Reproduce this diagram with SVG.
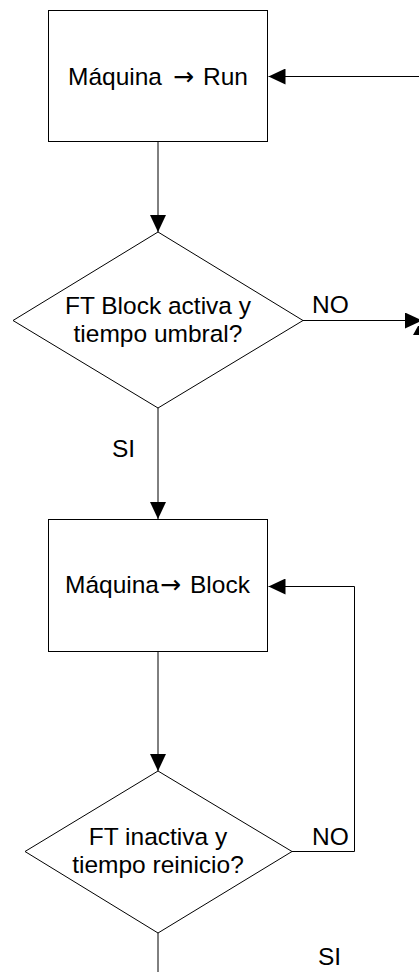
<svg xmlns="http://www.w3.org/2000/svg" width="419" height="972" viewBox="0 0 419 972">
<style>
  .shape { fill: #ffffff; stroke: #000000; stroke-width: 1; }
  .conn { fill: none; stroke: #000000; stroke-width: 1; }
  .lbl { font-family: "Liberation Sans", Arial, sans-serif; font-size: 24.5px; fill: #000000; }
  .arr { font-family: "DejaVu Sans", sans-serif; font-size: 25px; }
  .mid { text-anchor: middle; }
</style>
<defs>
  <marker id="ah" viewBox="0 0 17 16" refX="17" refY="8" markerWidth="17" markerHeight="16" markerUnits="userSpaceOnUse" orient="auto">
    <path d="M0,0 L17,8 L0,16 Z" fill="#000000"/>
  </marker>
</defs>
<rect width="419" height="972" fill="#ffffff"/>

<g id="connectors">
  <line class="conn" x1="419" y1="76.5" x2="268.5" y2="76.5" marker-end="url(#ah)"/>
  <line class="conn" x1="158" y1="142" x2="158" y2="232" marker-end="url(#ah)"/>
  <line class="conn" x1="303" y1="320.5" x2="422" y2="320.5" marker-end="url(#ah)"/>
  <polygon points="418,326 419,326 419,335 413,335" fill="#000000"/>
  <line class="conn" x1="158" y1="408" x2="158" y2="519" marker-end="url(#ah)"/>
  <line class="conn" x1="158" y1="652" x2="158" y2="771" marker-end="url(#ah)"/>
  <polyline class="conn" points="292,851.5 354.5,851.5 354.5,586.5 268.5,586.5" marker-end="url(#ah)"/>
  <line class="conn" x1="158" y1="933" x2="158" y2="972"/>
  <text class="lbl" x="312" y="313">NO</text>
  <text class="lbl" x="112" y="457">SI</text>
  <text class="lbl" x="312" y="845">NO</text>
  <text class="lbl" x="318" y="965">SI</text>
</g>

<g id="box-run">
  <rect class="shape" x="48.5" y="10.5" width="219" height="131"/>
  <text class="lbl" x="68" y="85">Máquina <tspan class="arr" x="173">→</tspan> <tspan x="203">Run</tspan></text>
</g>

<g id="decision-block">
  <polygon class="shape" points="158,232 303,320.5 158,408 13,320.5"/>
  <text class="lbl mid" x="158" y="314">FT Block activa y</text>
  <text class="lbl mid" x="158" y="342">tiempo umbral?</text>
</g>

<g id="box-block">
  <rect class="shape" x="48.5" y="519.5" width="219" height="132"/>
  <text class="lbl" x="65" y="593">Máquina<tspan class="arr" x="160">→</tspan> <tspan x="190">Block</tspan></text>
</g>

<g id="decision-reset">
  <polygon class="shape" points="158,771 292,851.5 158,933 25,851.5"/>
  <text class="lbl mid" x="158" y="845">FT inactiva y</text>
  <text class="lbl mid" x="158" y="873">tiempo reinicio?</text>
</g>
</svg>
